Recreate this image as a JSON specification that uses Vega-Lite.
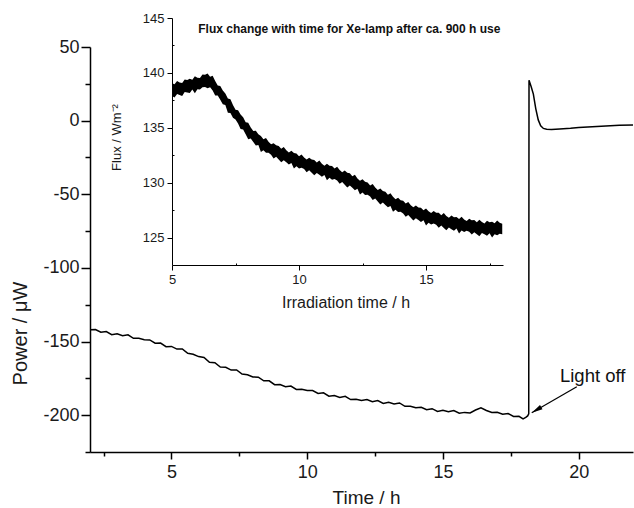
{
"$schema": "https://vega.github.io/schema/vega-lite/v6.json",
"width": 543, "height": 405,
"autosize": {"type": "none"},
"padding": {"left": 90, "top": 47, "right": 1, "bottom": 56},
"background": "white",
"config": {
  "view": {"stroke": null},
  "axis": {"grid": false, "domainColor": "#000", "tickColor": "#000", "labelColor": "#1a1a1a", "titleColor": "#1a1a1a", "labelFont": "Liberation Sans", "titleFont": "Liberation Sans", "titleFontWeight": "normal", "labelFlush": false, "labelOverlap": false, "labelBound": false, "tickCount": 60},
  "text": {"font": "Liberation Sans"}
},
"datasets": {
  "main": [
    {"t":2.0,"v":-142},{"t":2.2,"v":-141.8},{"t":2.4,"v":-143.7},{"t":2.6,"v":-143.2},{"t":2.8,"v":-145.3},
    {"t":3.0,"v":-144.7},{"t":3.2,"v":-146},{"t":3.4,"v":-145.4},{"t":3.6,"v":-147.8},{"t":3.8,"v":-147.8},
    {"t":4.0,"v":-148.8},{"t":4.2,"v":-148.9},{"t":4.4,"v":-151.1},{"t":4.6,"v":-151},{"t":4.8,"v":-153.5},
    {"t":5.0,"v":-153.3},{"t":5.2,"v":-155.1},{"t":5.4,"v":-155},{"t":5.6,"v":-158},{"t":5.8,"v":-158.6},
    {"t":6.0,"v":-160.2},{"t":6.2,"v":-160.8},{"t":6.4,"v":-164.1},{"t":6.6,"v":-164.4},{"t":6.8,"v":-167.3},
    {"t":7.0,"v":-167.5},{"t":7.2,"v":-169.4},{"t":7.4,"v":-169.3},{"t":7.6,"v":-172.1},{"t":7.8,"v":-172.5},
    {"t":8.0,"v":-174},{"t":8.2,"v":-174.2},{"t":8.4,"v":-176.7},{"t":8.6,"v":-176.7},{"t":8.8,"v":-179.3},
    {"t":9.0,"v":-179.2},{"t":9.2,"v":-180.7},{"t":9.4,"v":-180.2},{"t":9.6,"v":-182.5},{"t":9.8,"v":-182.4},
    {"t":10.0,"v":-183.3},{"t":10.2,"v":-183.3},{"t":10.4,"v":-185.2},{"t":10.6,"v":-184.8},{"t":10.8,"v":-187.1},
    {"t":11.0,"v":-186.7},{"t":11.2,"v":-187.9},{"t":11.4,"v":-187.2},{"t":11.6,"v":-189.4},{"t":11.8,"v":-189.2},
    {"t":12.0,"v":-190},{"t":12.2,"v":-189.4},{"t":12.4,"v":-190.9},{"t":12.6,"v":-190.1},{"t":12.8,"v":-192},
    {"t":13.0,"v":-191.2},{"t":13.2,"v":-192.4},{"t":13.4,"v":-191.7},{"t":13.6,"v":-194},{"t":13.8,"v":-194},
    {"t":14.0,"v":-195},{"t":14.2,"v":-194.6},{"t":14.4,"v":-196.3},{"t":14.6,"v":-195.6},{"t":14.8,"v":-197.5},
    {"t":15.0,"v":-196.7},{"t":15.2,"v":-197.7},{"t":15.4,"v":-196.8},{"t":15.6,"v":-198.7},{"t":15.8,"v":-198.1},
    {"t":16.0,"v":-198.5},{"t":16.2,"v":-196.5},{"t":16.4,"v":-195},{"t":16.6,"v":-196.8},{"t":16.8,"v":-198.2},
    {"t":17.0,"v":-198},{"t":17.2,"v":-199.4},{"t":17.4,"v":-198.9},{"t":17.6,"v":-200.9},{"t":17.8,"v":-200.8},
    {"t":17.95,"v":-202.5},{"t":18.05,"v":-201.5},{"t":18.12,"v":-200.5},{"t":18.16,"v":-199},
    {"t":18.17,"v":27.5},{"t":18.25,"v":23},{"t":18.33,"v":18},{"t":18.42,"v":8},{"t":18.51,"v":0.5},
    {"t":18.6,"v":-3.5},{"t":18.7,"v":-5.3},{"t":18.82,"v":-5.9},{"t":19.0,"v":-6},{"t":19.3,"v":-5.7},
    {"t":19.7,"v":-5.2},{"t":20.0,"v":-4.7},{"t":20.5,"v":-4.1},{"t":21.0,"v":-3.6},{"t":21.5,"v":-3.2},{"t":22.0,"v":-3.0}
  ],
  "arrow": [{"t":19.93,"v":-180.7,"t2":18.27,"v2":-198.3}],
  "head": [{"t":18.27,"v":-198.3}],
  "note": [{"t":19.31,"v":-177.5,"label":"Light off"}],
  "ititle": [{"t":11.98,"v":144.03,"label":"Flux change with time for Xe-lamp after ca. 900 h use"}],
  "inset": [
    {"t":5.0,"lo":137.9,"hi":139.05},{"t":5.1,"lo":137.76,"hi":138.96},{"t":5.2,"lo":138.07,"hi":139.27},{"t":5.3,"lo":137.98,"hi":139.13},{"t":5.4,"lo":137.89,"hi":139.09},
    {"t":5.5,"lo":138.25,"hi":139.4},{"t":5.6,"lo":138.21,"hi":139.36},{"t":5.7,"lo":138.17,"hi":139.47},{"t":5.8,"lo":138.48,"hi":139.38},{"t":5.9,"lo":138.14,"hi":139.69},
    {"t":6.0,"lo":138.5,"hi":139.55},{"t":6.1,"lo":138.48,"hi":139.53},{"t":6.2,"lo":138.7,"hi":139.85},{"t":6.3,"lo":138.72,"hi":139.82},{"t":6.4,"lo":138.6,"hi":139.95},
    {"t":6.5,"lo":138.7,"hi":139.65},{"t":6.6,"lo":138.4,"hi":139.75},{"t":6.7,"lo":137.95,"hi":139.25},{"t":6.8,"lo":137.95,"hi":138.85},{"t":6.9,"lo":137.55,"hi":138.8},
    {"t":7.0,"lo":137.15,"hi":138.4},{"t":7.1,"lo":137.08,"hi":138.13},{"t":7.2,"lo":136.36,"hi":137.66},{"t":7.3,"lo":136.34,"hi":137.59},{"t":7.4,"lo":135.92,"hi":137.07},
    {"t":7.5,"lo":135.75,"hi":136.65},{"t":7.6,"lo":135.4,"hi":136.6},{"t":7.7,"lo":134.9,"hi":136.2},{"t":7.8,"lo":134.85,"hi":135.95},{"t":7.9,"lo":134.4,"hi":135.5},
    {"t":8.0,"lo":133.95,"hi":135.45},{"t":8.1,"lo":134.03,"hi":135.03},{"t":8.2,"lo":133.71,"hi":134.71},{"t":8.3,"lo":133.39,"hi":134.74},{"t":8.4,"lo":133.42,"hi":134.42},
    {"t":8.5,"lo":132.8,"hi":134.25},{"t":8.6,"lo":132.96,"hi":133.96},{"t":8.7,"lo":132.72,"hi":134.07},{"t":8.8,"lo":132.73,"hi":133.73},{"t":8.9,"lo":132.54,"hi":133.49},
    {"t":9.0,"lo":132.2,"hi":133.6},{"t":9.1,"lo":132.35,"hi":133.4},{"t":9.2,"lo":132.1,"hi":133.35},{"t":9.3,"lo":131.85,"hi":133.1},{"t":9.4,"lo":132.05,"hi":133.25},
    {"t":9.5,"lo":131.85,"hi":132.95},{"t":9.6,"lo":131.65,"hi":132.75},{"t":9.7,"lo":131.8,"hi":132.9},{"t":9.8,"lo":131.3,"hi":132.7},{"t":9.9,"lo":131.5,"hi":132.65},
    {"t":10.0,"lo":131.3,"hi":132.4},{"t":10.1,"lo":131.37,"hi":132.57},{"t":10.2,"lo":131.24,"hi":132.29},{"t":10.3,"lo":130.96,"hi":132.11},{"t":10.4,"lo":131.13,"hi":132.28},
    {"t":10.5,"lo":130.9,"hi":132.1},{"t":10.6,"lo":130.67,"hi":132.07},{"t":10.7,"lo":130.89,"hi":131.84},{"t":10.8,"lo":130.71,"hi":132.01},{"t":10.9,"lo":130.53,"hi":131.73},
    {"t":11.0,"lo":130.7,"hi":131.55},{"t":11.1,"lo":130.22,"hi":131.72},{"t":11.2,"lo":130.44,"hi":131.54},{"t":11.3,"lo":130.26,"hi":131.51},{"t":11.4,"lo":130.33,"hi":131.28},
    {"t":11.5,"lo":130.2,"hi":131.45},{"t":11.6,"lo":129.9,"hi":131.15},{"t":11.7,"lo":130.05,"hi":130.95},{"t":11.8,"lo":129.8,"hi":131.1},{"t":11.9,"lo":129.55,"hi":130.9},
    {"t":12.0,"lo":129.75,"hi":130.85},{"t":12.1,"lo":129.53,"hi":130.58},{"t":12.2,"lo":129.31,"hi":130.71},{"t":12.3,"lo":129.44,"hi":130.39},{"t":12.4,"lo":128.92,"hi":130.17},
    {"t":12.5,"lo":129.1,"hi":130.3},{"t":12.6,"lo":128.88,"hi":130.08},{"t":12.7,"lo":128.91,"hi":130.01},{"t":12.8,"lo":128.74,"hi":129.74},{"t":12.9,"lo":128.42,"hi":129.87},
    {"t":13.0,"lo":128.55,"hi":129.55},{"t":13.1,"lo":128.28,"hi":129.33},{"t":13.2,"lo":128.01,"hi":129.46},{"t":13.3,"lo":128.19,"hi":129.24},{"t":13.4,"lo":127.97,"hi":129.17},
    {"t":13.5,"lo":127.75,"hi":128.9},{"t":13.6,"lo":127.88,"hi":129.03},{"t":13.7,"lo":127.36,"hi":128.71},{"t":13.8,"lo":127.54,"hi":128.49},{"t":13.9,"lo":127.32,"hi":128.62},
    {"t":14.0,"lo":127.35,"hi":128.4},{"t":14.1,"lo":127.2,"hi":128.35},{"t":14.2,"lo":126.9,"hi":128.1},{"t":14.3,"lo":127.05,"hi":128.25},{"t":14.4,"lo":126.8,"hi":127.95},
    {"t":14.5,"lo":126.55,"hi":127.75},{"t":14.6,"lo":126.77,"hi":127.92},{"t":14.7,"lo":126.59,"hi":127.74},{"t":14.8,"lo":126.41,"hi":127.71},{"t":14.9,"lo":126.58,"hi":127.48},
    {"t":15.0,"lo":126.1,"hi":127.65},{"t":15.1,"lo":126.34,"hi":127.39},{"t":15.2,"lo":126.18,"hi":127.23},{"t":15.3,"lo":126.27,"hi":127.42},{"t":15.4,"lo":126.16,"hi":127.26},
    {"t":15.5,"lo":125.9,"hi":127.25},{"t":15.6,"lo":126.09,"hi":127.04},{"t":15.7,"lo":125.88,"hi":127.23},{"t":15.8,"lo":125.67,"hi":126.97},{"t":15.9,"lo":125.91,"hi":126.81},
    {"t":16.0,"lo":125.75,"hi":127.0},{"t":16.1,"lo":125.61,"hi":126.86},{"t":16.2,"lo":125.82,"hi":126.87},{"t":16.3,"lo":125.38,"hi":126.68},{"t":16.4,"lo":125.64,"hi":126.89},
    {"t":16.5,"lo":125.5,"hi":126.65},{"t":16.6,"lo":125.61,"hi":126.51},{"t":16.7,"lo":125.52,"hi":126.72},{"t":16.8,"lo":125.28,"hi":126.58},{"t":16.9,"lo":125.49,"hi":126.59},
    {"t":17.0,"lo":125.3,"hi":126.4},{"t":17.1,"lo":125.13,"hi":126.63},{"t":17.2,"lo":125.41,"hi":126.41},{"t":17.3,"lo":125.29,"hi":126.29},{"t":17.4,"lo":125.17,"hi":126.52},
    {"t":17.5,"lo":125.4,"hi":126.4},{"t":17.6,"lo":125.0,"hi":126.45},{"t":17.7,"lo":125.3,"hi":126.3},{"t":17.8,"lo":125.2,"hi":126.55},{"t":17.9,"lo":125.35,"hi":126.35},
    {"t":18.0,"lo":125.3,"hi":126.25}
  ]
},
"layer": [
  {"layer": [
    {"data": {"name": "main"},
     "mark": {"type": "line", "color": "black", "strokeWidth": 1.5},
     "encoding": {
       "x": {"field": "t", "type": "quantitative",
             "scale": {"domain": [2, 22], "nice": false, "zero": false},
             "axis": {"title": "Time / h", "values": [2.5, 5, 7.5, 10, 12.5, 15, 17.5, 20],
                      "labelExpr": "datum.value % 5 === 0 ? '' + datum.value : ''",
                      "tickSize": {"condition": {"test": "datum.value % 5 === 0", "value": 7}, "value": 4},
                      "labelFontSize": 18, "labelPadding": 4, "titleFontSize": 19,
                      "domainWidth": 1.5, "tickWidth": 1.5,
                      "titleX": 276, "titleY": 51, "titleBaseline": "alphabetic"}},
       "y": {"field": "v", "type": "quantitative",
             "scale": {"domain": [-225, 50], "nice": false, "zero": false},
             "axis": {"title": "Power / μW", "values": [-225, -200, -175, -150, -125, -100, -75, -50, -25, 0, 25, 50],
                      "labelExpr": "datum.value % 50 === 0 ? '' + datum.value : ''",
                      "tickSize": {"condition": {"test": "datum.value % 50 === 0", "value": 9}, "value": 5},
                      "labelFontSize": 18, "labelPadding": 2, "titleFontSize": 20,
                      "domainWidth": 1.5, "tickWidth": 1.5,
                      "titleX": -64, "titleY": 286, "titleBaseline": "alphabetic", "titleAngle": 270}}
     }},
    {"data": {"name": "arrow"},
     "mark": {"type": "rule", "color": "black", "strokeWidth": 1.2},
     "encoding": {"x": {"field": "t", "type": "quantitative"}, "y": {"field": "v", "type": "quantitative"},
                  "x2": {"field": "t2"}, "y2": {"field": "v2"}}},
    {"data": {"name": "head"},
     "mark": {"type": "point", "shape": "M0,0L0.45,2L-0.45,2Z", "size": 121, "angle": 240, "filled": true, "color": "black", "opacity": 1},
     "encoding": {"x": {"field": "t", "type": "quantitative"}, "y": {"field": "v", "type": "quantitative"}}},
    {"data": {"name": "note"},
     "mark": {"type": "text", "align": "left", "baseline": "alphabetic", "fontSize": 18.5, "color": "#111"},
     "encoding": {"x": {"field": "t", "type": "quantitative"}, "y": {"field": "v", "type": "quantitative"},
                  "text": {"field": "label"}}}
  ]},
  {"layer": [
    {"data": {"name": "inset"},
     "mark": {"type": "area", "color": "black", "opacity": 1},
     "encoding": {
       "x": {"field": "t", "type": "quantitative",
             "scale": {"domain": [5, 18.03], "range": [82, 413], "nice": false, "zero": false},
             "axis": {"title": "Irradiation time / h", "orient": "bottom", "offset": -187,
                      "values": [5, 7.5, 10, 12.5, 15, 17.5],
                      "labelExpr": "datum.value % 5 === 0 ? '' + datum.value : ''",
                      "tickSize": {"condition": {"test": "datum.value % 5 === 0", "value": 5}, "value": -2},
                      "labelFontSize": 13, "labelPadding": 3, "titleFontSize": 16,
                      "domainWidth": 1, "tickWidth": 1,
                      "titleX": 255.5, "titleY": 42.5, "titleBaseline": "alphabetic"}},
       "y": {"field": "lo", "type": "quantitative",
             "scale": {"domain": [122.5, 145], "range": [218, -29], "nice": false, "zero": false},
             "axis": {"title": "Flux / Wm⁻²", "orient": "left", "offset": -82,
                      "values": [125, 127.5, 130, 132.5, 135, 137.5, 140, 142.5, 145],
                      "labelExpr": "datum.value % 5 === 0 ? '' + datum.value : ''",
                      "tickSize": {"condition": {"test": "datum.value % 5 === 0", "value": 5}, "value": -2},
                      "labelFontSize": 13, "labelPadding": 3, "titleFontSize": 13,
                      "domainWidth": 1, "tickWidth": 1,
                      "titleX": -52, "titleY": 90, "titleBaseline": "alphabetic", "titleAngle": 270}},
       "y2": {"field": "hi"}
     }},
    {"data": {"name": "ititle"},
     "mark": {"type": "text", "fontWeight": "bold", "fontSize": 12, "align": "center", "baseline": "middle", "color": "#111"},
     "encoding": {"x": {"field": "t", "type": "quantitative"}, "y": {"field": "v", "type": "quantitative"},
                  "text": {"field": "label"}}}
  ]}
],
"resolve": {"scale": {"x": "independent", "y": "independent"}}
}
